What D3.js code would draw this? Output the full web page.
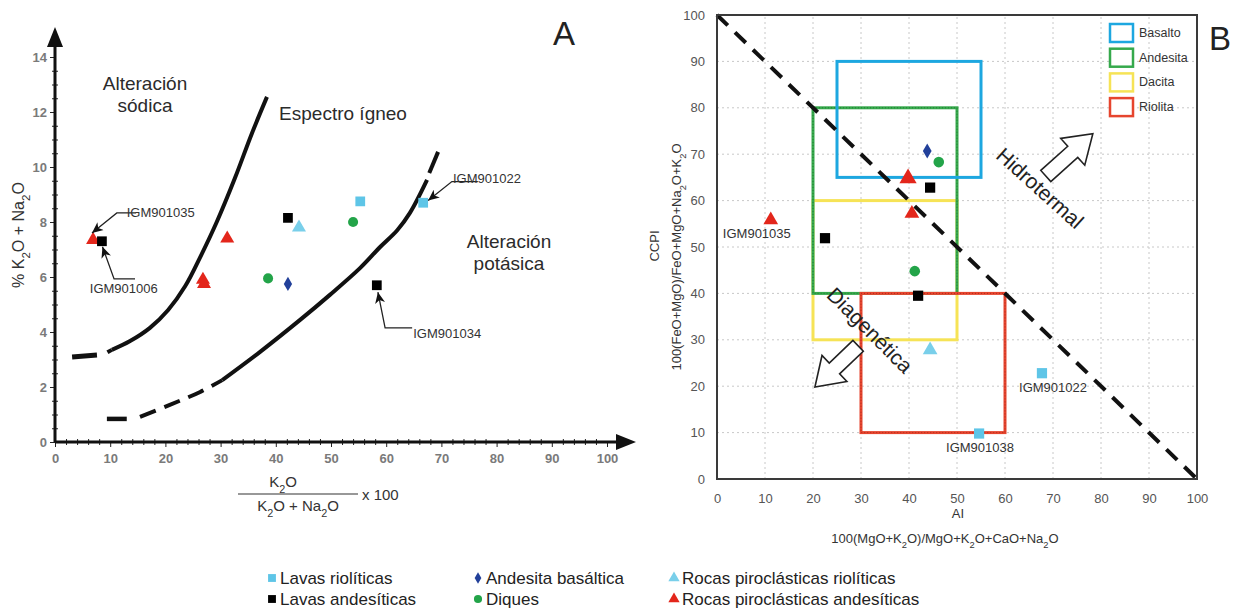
<!DOCTYPE html>
<html>
<head>
<meta charset="utf-8">
<script src="https://cdn.jsdelivr.net/npm/d3@7"></script>
<style>
  body { margin: 0; background: #fff; }
  svg { display: block; font-family: "Liberation Sans", Arial, sans-serif; }
</style>
</head>
<body>
<svg id="chart" width="1241" height="609"></svg>
<script>
// sample groups, in legend order
const groupNames = ["Lavas riolíticas", "Lavas andesíticas", "Andesita basáltica", "Diques",
  "Rocas piroclásticas riolíticas", "Rocas piroclásticas andesíticas"];
const groupColors = ["#5ec5e7", "#000000", "#22409a", "#23a449", "#79cfea", "#e3261b"];
const groupShapes = ["square", "square", "diamond", "circle", "triangle", "triangle"];

// panel A: 100*K2O/(K2O+Na2O) vs K2O+Na2O
const samplesA = [
  ["Rocas piroclásticas andesíticas", 6.9, 7.35],
  ["Lavas andesíticas", 8.5, 7.3],
  ["Rocas piroclásticas andesíticas", 31.2, 7.4],
  ["Rocas piroclásticas andesíticas", 26.8, 5.9],
  ["Rocas piroclásticas andesíticas", 27.0, 5.75],
  ["Diques", 38.6, 5.95],
  ["Andesita basáltica", 42.2, 5.75],
  ["Lavas andesíticas", 42.2, 8.15],
  ["Rocas piroclásticas riolíticas", 44.2, 7.8],
  ["Lavas riolíticas", 55.3, 8.75],
  ["Diques", 54.0, 8.0],
  ["Lavas andesíticas", 58.3, 5.7],
  ["Lavas riolíticas", 66.7, 8.7],
];

// panel B: AI vs CCPI
const samplesB = [
  ["Rocas piroclásticas andesíticas", 11.2, 55.8],
  ["Lavas andesíticas", 22.5, 51.9],
  ["Andesita basáltica", 43.8, 70.7],
  ["Diques", 46.2, 68.3],
  ["Rocas piroclásticas andesíticas", 39.8, 64.8],
  ["Lavas andesíticas", 44.4, 62.8],
  ["Rocas piroclásticas andesíticas", 40.6, 57.2],
  ["Diques", 41.2, 44.8],
  ["Lavas andesíticas", 41.9, 39.5],
  ["Rocas piroclásticas riolíticas", 44.4, 27.8],
  ["Lavas riolíticas", 67.7, 22.8],
  ["Lavas riolíticas", 54.6, 9.8],
];

// igneous spectrum boundaries (panel A)
const sodicCurve = [[10.3, 3.35], [13.6, 3.67], [17.2, 4.15], [20.5, 4.8], [23.6, 5.67], [26.4, 6.76],
  [29.3, 8.0], [32.6, 9.6], [35.7, 11.24], [38.4, 12.55]];
const sodicStub = [[3.1, 3.09], [7.6, 3.16]];
const potassicStub = [[9.4, 0.84], [13.0, 0.84]];
const potassicDashed = [[15.4, 0.91], [20.8, 1.35], [26.3, 1.82], [30.3, 2.25]];
const potassicCurve = [[30.3, 2.25], [37.1, 3.27], [44.4, 4.44], [49.8, 5.35], [55.3, 6.33], [58.9, 7.09],
  [62.0, 7.7], [64.3, 8.33], [67.4, 9.53]];
const potassicTop = [[67.8, 9.78], [69.4, 10.55]];

// least-altered fields (panel B), in drawing order
const fieldNames = ["Dacita", "Andesita", "Riolita", "Basalto"];
const fieldAI = [[20, 50], [20, 50], [30, 60], [25, 55]];
const fieldCCPI = [[30, 60], [40, 80], [10, 40], [65, 90]];
const fieldColors = { Basalto: "#1da7e0", Andesita: "#36a94c", Dacita: "#f6e356", Riolita: "#e6452e" };
const fieldLegend = ["Basalto", "Andesita", "Dacita", "Riolita"];

const ticksA_x = d3.range(0, 101, 10);
const ticksA_y = d3.range(0, 15, 2);
const ticksB = d3.range(0, 101, 10);

const svg = d3.select("#chart");
const xA = d3.scaleLinear().domain([0, 100]).range([55, 607]);
const yA = d3.scaleLinear().domain([0, 14]).range([442, 57]);
const xB = d3.scaleLinear().domain([0, 100]).range([717, 1197]);
const yB = d3.scaleLinear().domain([0, 100]).range([479, 15]);

const shapeType = { square: d3.symbolSquare, diamond: d3.symbolDiamond, circle: d3.symbolCircle, triangle: d3.symbolTriangle };
const shapeSize = { square: 95, diamond: 60, circle: 80, triangle: 85 };
const groupOf = (name) => groupNames.indexOf(name);
const symbolPath = (i, scale = 1) => d3.symbol().type(shapeType[groupShapes[i]]).size(shapeSize[groupShapes[i]] * scale)();

// text with "_2" style subscripts
function rich(sel, str) {
  str.split(/(_\d)/).filter((p) => p).forEach((p) => {
    if (p[0] === "_") sel.append("tspan").attr("baseline-shift", "sub").attr("font-size", "0.72em").text(p.slice(1));
    else sel.append("tspan").text(p);
  });
  return sel;
}

const defs = svg.append("defs");
defs.append("marker").attr("id", "barb").attr("markerUnits", "userSpaceOnUse")
  .attr("markerWidth", 12).attr("markerHeight", 12).attr("refX", 11).attr("refY", 6)
  .attr("orient", "auto-start-reverse")
  .append("path").attr("d", "M0,1 L11,6 L0,11 L3,6 Z").attr("fill", "#111");

// ---------- panel A ----------
const gA = svg.append("g");

const minorX = d3.range(0, 101, 2).filter((v) => v % 10);
const minorY = d3.range(0, 14.01, 0.5).filter((v) => v % 2);
gA.append("g").attr("transform", "translate(0,442)")
  .call(d3.axisBottom(xA).tickValues(minorX).tickSize(3).tickFormat(""))
  .call((g) => g.select(".domain").remove());
gA.append("g").attr("transform", "translate(0,442)")
  .call(d3.axisTop(xA).tickValues(minorX).tickSize(3).tickFormat(""))
  .call((g) => g.select(".domain").remove());
gA.append("g").attr("transform", "translate(55,0)")
  .call(d3.axisLeft(yA).tickValues(minorY).tickSize(3).tickFormat(""))
  .call((g) => g.select(".domain").remove());
gA.append("g").attr("transform", "translate(55,0)")
  .call(d3.axisRight(yA).tickValues(minorY).tickSize(3).tickFormat(""))
  .call((g) => g.select(".domain").remove());

const axisXA = gA.append("g").attr("transform", "translate(0,442)")
  .call(d3.axisBottom(xA).tickValues(ticksA_x).tickSize(5).tickPadding(7));
const axisYA = gA.append("g").attr("transform", "translate(55,0)")
  .call(d3.axisLeft(yA).tickValues(ticksA_y).tickSize(5).tickPadding(3));
for (const ax of [axisXA, axisYA]) {
  ax.select(".domain").remove();
  ax.selectAll("text").attr("font-size", 13).attr("font-weight", "bold").attr("fill", "#7a7a7a")
    .attr("font-family", "Liberation Sans, Arial, sans-serif");
}
gA.selectAll(".tick line").attr("stroke", "#222");

gA.append("line").attr("x1", 55).attr("x2", 620).attr("y1", 442).attr("y2", 442).attr("stroke", "#111").attr("stroke-width", 3);
gA.append("line").attr("x1", 55).attr("x2", 55).attr("y1", 442).attr("y2", 44).attr("stroke", "#111").attr("stroke-width", 3);
gA.append("path").attr("d", "M636,442 L616,434 L616,450 Z").attr("fill", "#111");
gA.append("path").attr("d", "M55,27 L47,47 L63,47 Z").attr("fill", "#111");

const lineA = d3.line().x((d) => xA(d[0])).y((d) => yA(d[1]));
const smoothA = d3.line().x((d) => xA(d[0])).y((d) => yA(d[1])).curve(d3.curveCatmullRom);
const curveStyle = (p, w) => p.attr("fill", "none").attr("stroke", "#111").attr("stroke-width", w).attr("stroke-linecap", "butt");
curveStyle(gA.append("path").attr("d", smoothA(sodicCurve)), 4);
curveStyle(gA.append("path").attr("d", lineA(sodicStub)), 5);
curveStyle(gA.append("path").attr("d", lineA([[9.5, 3.26], [10.3, 3.35]])), 4);
curveStyle(gA.append("path").attr("d", lineA(potassicStub)), 4.5);
curveStyle(gA.append("path").attr("d", smoothA(potassicDashed)), 4).attr("stroke-dasharray", "17,9");
curveStyle(gA.append("path").attr("d", smoothA(potassicCurve)), 4);
curveStyle(gA.append("path").attr("d", lineA(potassicTop)), 4);

gA.selectAll("path.pt").data(samplesA).join("path").attr("class", "pt")
  .attr("transform", (d) => `translate(${xA(d[1])},${yA(d[2])})`)
  .attr("d", (d) => symbolPath(groupOf(d[0])))
  .attr("fill", (d) => groupColors[groupOf(d[0])]);

// leader labels: text, tip, elbow, end, text anchor (data units)
const labelsA = [
  ["IGM901035", [6.7, 7.6], [11.2, 8.33], [14.7, 8.33], [13.0, 8.2]],
  ["IGM901006", [8.6, 7.1], [10.7, 5.93], [14.5, 5.93], [6.3, 5.42]],
  ["IGM901022", [67.6, 8.78], [71.9, 9.47], [76.6, 9.47], [72.1, 9.42]],
  ["IGM901034", [58.5, 5.45], [59.8, 4.15], [64.7, 4.15], [64.9, 3.78]],
];
for (const [txt, tip, elbow, end, at] of labelsA) {
  gA.append("path").attr("d", lineA([tip, elbow, end])).attr("fill", "none").attr("stroke", "#222")
    .attr("stroke-width", 1.3).attr("marker-start", "url(#barb)");
  gA.append("text").attr("x", xA(at[0])).attr("y", yA(at[1])).attr("font-size", 13).attr("fill", "#333").text(txt);
}

const regionText = (g, x, y, lines, size = 19) => {
  const t = g.append("text").attr("x", x).attr("y", y).attr("font-size", size).attr("fill", "#2b2b2b").attr("text-anchor", "middle");
  lines.forEach((l, i) => t.append("tspan").attr("x", x).attr("dy", i ? "1.18em" : 0).text(l));
};
regionText(gA, 145, 90, ["Alteración", "sódica"]);
regionText(gA, 343, 120, ["Espectro ígneo"]);
regionText(gA, 509, 248, ["Alteración", "potásica"]);
gA.append("text").attr("x", 553).attr("y", 45).attr("font-size", 33).attr("fill", "#222").text("A");

rich(gA.append("text").attr("transform", "translate(24,235) rotate(-90)").attr("text-anchor", "middle")
  .attr("font-size", 16).attr("fill", "#333"), "% K_2O + Na_2O");
rich(gA.append("text").attr("x", 283).attr("y", 487).attr("text-anchor", "middle").attr("font-size", 15).attr("fill", "#333"), "K_2O");
gA.append("line").attr("x1", 238).attr("x2", 358).attr("y1", 494).attr("y2", 494).attr("stroke", "#333").attr("stroke-width", 1.2);
rich(gA.append("text").attr("x", 298).attr("y", 511).attr("text-anchor", "middle").attr("font-size", 15).attr("fill", "#333"), "K_2O + Na_2O");
gA.append("text").attr("x", 362).attr("y", 500).attr("font-size", 15).attr("fill", "#333").text("x 100");

// ---------- panel B ----------
const gB = svg.append("g");
const grid = d3.range(10, 100, 10);
gB.selectAll("line.gx").data(grid).join("line").attr("class", "gx")
  .attr("x1", (d) => xB(d)).attr("x2", (d) => xB(d)).attr("y1", yB(0)).attr("y2", yB(100))
  .attr("stroke", "#c8c8c8").attr("stroke-dasharray", "2,3");
gB.selectAll("line.gy").data(grid).join("line").attr("class", "gy")
  .attr("y1", (d) => yB(d)).attr("y2", (d) => yB(d)).attr("x1", xB(0)).attr("x2", xB(100))
  .attr("stroke", "#c8c8c8").attr("stroke-dasharray", "2,3");

fieldNames.forEach((name, i) => {
  const r = gB.append("rect").attr("x", xB(fieldAI[i][0])).attr("y", yB(fieldCCPI[i][1]))
    .attr("width", xB(fieldAI[i][1]) - xB(fieldAI[i][0])).attr("height", yB(fieldCCPI[i][0]) - yB(fieldCCPI[i][1]))
    .attr("fill", "none").attr("stroke", fieldColors[name]).attr("stroke-width", 3);
  if (name === "Andesita" || name === "Riolita") {
    gB.append("rect").attr("x", r.attr("x")).attr("y", r.attr("y")).attr("width", r.attr("width")).attr("height", r.attr("height"))
      .attr("fill", "none").attr("stroke", name === "Andesita" ? "#1d6b2c" : "#9c2418").attr("stroke-width", 1)
      .attr("stroke-dasharray", "1,2").attr("opacity", 0.7);
  }
});

gB.append("line").attr("x1", xB(0)).attr("y1", yB(100)).attr("x2", xB(100)).attr("y2", yB(0))
  .attr("stroke", "#111").attr("stroke-width", 4).attr("stroke-dasharray", "15,10");

gB.selectAll("path.pt").data(samplesB).join("path").attr("class", "pt")
  .attr("transform", (d) => `translate(${xB(d[1])},${yB(d[2])})`)
  .attr("d", (d, i) => symbolPath(groupOf(d[0]), i === 4 ? 1.5 : 1.1))
  .attr("fill", (d) => groupColors[groupOf(d[0])]);

gB.append("rect").attr("x", xB(0)).attr("y", yB(100)).attr("width", xB(100) - xB(0)).attr("height", yB(0) - yB(100))
  .attr("fill", "none").attr("stroke", "#3a3a3a").attr("stroke-width", 2);

const axisXB = gB.append("g").attr("transform", `translate(0,${yB(0)})`)
  .call(d3.axisBottom(xB).tickValues(ticksB).tickSize(0).tickPadding(15));
const axisYB = gB.append("g").attr("transform", `translate(${xB(0)},0)`)
  .call(d3.axisLeft(yB).tickValues(ticksB).tickSize(0).tickPadding(12));
for (const ax of [axisXB, axisYB]) {
  ax.select(".domain").remove();
  ax.selectAll("text").attr("font-size", 13).attr("fill", "#555").attr("font-family", "Liberation Sans, Arial, sans-serif");
}

const labelsB = [["IGM901035", 8.3, 51.9], ["IGM901022", 70.0, 18.75], ["IGM901038", 54.8, 5.8]];
gB.selectAll("text.lbl").data(labelsB).join("text").attr("class", "lbl")
  .attr("x", (d) => xB(d[1])).attr("y", (d) => yB(d[2])).attr("text-anchor", "middle")
  .attr("font-size", 13).attr("fill", "#333").text((d) => d[0]);

function blockArrow(tail, tip, shaft, head, headLen) {
  const dx = tip[0] - tail[0], dy = tip[1] - tail[1], len = Math.hypot(dx, dy);
  const ux = dx / len, uy = dy / len, nx = -uy, ny = ux, base = len - headLen;
  return [[0, shaft], [base, shaft], [base, head], [len, 0], [base, -head], [base, -shaft], [0, -shaft]]
    .map(([a, b]) => [tail[0] + ux * a + nx * b, tail[1] + uy * a + ny * b]);
}
const processes = [
  ["Hidrotermal", [68.5, 65.3], [78.3, 74.4], [67.3, 62.7], 42],
  ["Diagenética", [29.4, 28.7], [20.4, 19.8], [31.9, 32.1], 45],
];
for (const [name, tail, tip, at, angle] of processes) {
  const pts = blockArrow([xB(tail[0]), yB(tail[1])], [xB(tip[0]), yB(tip[1])], 7.5, 18, 27);
  gB.append("polygon").attr("points", pts.map((p) => p.join(",")).join(" "))
    .attr("fill", "#fff").attr("stroke", "#222").attr("stroke-width", 1.6).attr("stroke-linejoin", "miter");
  gB.append("text").attr("transform", `translate(${xB(at[0])},${yB(at[1])}) rotate(${angle})`)
    .attr("text-anchor", "middle").attr("dominant-baseline", "central").attr("font-size", 21).attr("fill", "#222").text(name);
}

const legB = gB.append("g");
fieldLegend.forEach((name, i) => {
  legB.append("rect").attr("x", 1110).attr("y", 24 + i * 24.7).attr("width", 23).attr("height", 18)
    .attr("fill", "#fff").attr("stroke", fieldColors[name]).attr("stroke-width", 2.5);
  legB.append("text").attr("x", 1139).attr("y", 33 + i * 24.7).attr("dominant-baseline", "central")
    .attr("font-size", 12.5).attr("fill", "#333").text(name);
});
gB.append("text").attr("x", 1209).attr("y", 50).attr("font-size", 33).attr("fill", "#222").text("B");

gB.append("text").attr("transform", "translate(659,246) rotate(-90)").attr("text-anchor", "middle")
  .attr("font-size", 13).attr("fill", "#333").text("CCPI");
rich(gB.append("text").attr("transform", "translate(681,257) rotate(-90)").attr("text-anchor", "middle")
  .attr("font-size", 13).attr("fill", "#333"), "100(FeO+MgO)/FeO+MgO+Na_2O+K_2O");
gB.append("text").attr("x", 958).attr("y", 518).attr("text-anchor", "middle").attr("font-size", 13).attr("fill", "#333").text("AI");
rich(gB.append("text").attr("x", 945).attr("y", 543).attr("text-anchor", "middle").attr("font-size", 13).attr("fill", "#333"),
  "100(MgO+K_2O)/MgO+K_2O+CaO+Na_2O");

// ---------- bottom legend ----------
const legCols = [272, 478, 674];
const legRows = [578, 599];
const leg = svg.append("g");
groupNames.forEach((name, i) => {
  const cx = legCols[Math.floor(i / 2)], cy = legRows[i % 2];
  leg.append("path").attr("transform", `translate(${cx},${cy})`).attr("d", symbolPath(i, 0.65)).attr("fill", groupColors[i]);
  leg.append("text").attr("x", cx + 8).attr("y", cy).attr("dominant-baseline", "central")
    .attr("font-size", 17).attr("fill", "#222").text(name);
});
</script>
</body>
</html>
